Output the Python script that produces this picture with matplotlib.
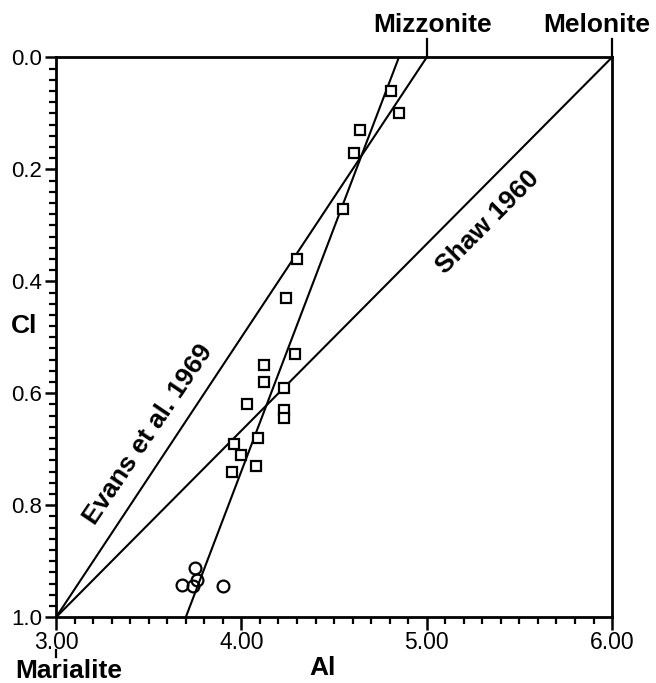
import matplotlib

matplotlib.use("Agg")

import matplotlib.pyplot as plt
from matplotlib.ticker import MultipleLocator, FormatStrFormatter

# squares (Al, Cl)
sq_al = [4.81, 4.85, 4.64, 4.61, 4.55, 4.30, 4.24, 4.29, 4.12, 4.12,
         4.23, 4.03, 4.23, 4.23, 4.09, 3.96, 4.00, 4.08, 3.95]
sq_cl = [0.06, 0.10, 0.13, 0.17, 0.27, 0.36, 0.43, 0.53, 0.55, 0.58,
         0.59, 0.62, 0.63, 0.645, 0.68, 0.69, 0.71, 0.73, 0.74]

# circles
ci_al = [3.75, 3.68, 3.76, 3.74, 3.90]
ci_cl = [0.912, 0.943, 0.934, 0.945, 0.944]

# reference lines
evans_al = [3.0, 5.0]
evans_cl = [1.0, 0.0]
shaw_al = [3.0, 6.0]
shaw_cl = [1.0, 0.0]
fit_al = [3.70, 4.85]
fit_cl = [1.0, 0.0]

end_members = ["Marialite", "Mizzonite", "Melonite"]
end_al = [3.0, 5.0, 6.0]

plt.rcParams["font.family"] = ["Liberation Sans", "DejaVu Sans"]

fig = plt.figure(figsize=(6.56, 6.83), dpi=100, facecolor="white")
ax = fig.add_axes([0.0854, 0.0962, 0.8476, 0.8199])

lw = 1.5
ax.plot(evans_al, evans_cl, color="black", lw=lw)
ax.plot(shaw_al, shaw_cl, color="black", lw=lw)
ax.plot(fit_al, fit_cl, color="black", lw=lw)
ax.plot(sq_al, sq_cl, ls="none", marker="s", ms=7, mfc="white",
        mec="black", mew=1.6)
ax.plot(ci_al, ci_cl, ls="none", marker="o", ms=8.5, mfc="none",
        mec="black", mew=1.6)

ax.set_xlim(3.0, 6.0)
ax.set_ylim(1.0, 0.0)
ax.xaxis.set_major_locator(MultipleLocator(1.0))
ax.xaxis.set_minor_locator(MultipleLocator(0.1))
ax.yaxis.set_major_locator(MultipleLocator(0.2))
ax.yaxis.set_minor_locator(MultipleLocator(0.02))
ax.xaxis.set_major_formatter(FormatStrFormatter("%.2f"))
ax.yaxis.set_major_formatter(FormatStrFormatter("%.1f"))

for sp in ax.spines.values():
    sp.set_linewidth(2.0)
ax.tick_params(axis="x", which="major", direction="out", length=9, width=1.8,
               pad=1, labelsize=16.5)
ax.tick_params(axis="x", which="minor", direction="out", length=5, width=1.6)
ax.tick_params(axis="y", which="major", direction="out", length=8, width=1.8,
               pad=2, labelsize=16)
ax.tick_params(axis="y", which="minor", direction="out", length=5, width=1.6)

ax.set_xlabel("Al", fontsize=19, fontweight="bold")
ax.xaxis.set_label_coords(0.479, -0.069)
ax.set_ylabel("Cl", fontsize=19, fontweight="bold", rotation=0)
ax.yaxis.set_label_coords(-0.058, 0.498)

# end-member markers and names
tx = ax.get_xaxis_transform()
for name, al in zip(end_members, end_al):
    if al == 3.0:
        ax.plot([al, al], [-0.059, -0.071], transform=tx, color="black",
                lw=1.6, clip_on=False)
        ax.text(al + 0.07, -0.096, name, transform=tx, ha="center", va="center",
                fontsize=19, fontweight="bold")
    else:
        ax.plot([al, al], [1.0, 1.032], transform=tx, color="black",
                lw=1.6, clip_on=False)
        ax.text(al + (0.03 if al == 5.0 else -0.08), 1.057, name, transform=tx,
                ha="center", va="center", fontsize=19, fontweight="bold")

ax.text(3.496, 0.674, "Evans et al. 1969", rotation=56, ha="center",
        va="center", fontsize=19, fontweight="bold", rotation_mode="anchor")
ax.text(5.329, 0.295, "Shaw 1960", rotation=45, ha="center", va="center",
        fontsize=19, fontweight="bold", rotation_mode="anchor")

fig.savefig("out.png", dpi=100, facecolor="white")
